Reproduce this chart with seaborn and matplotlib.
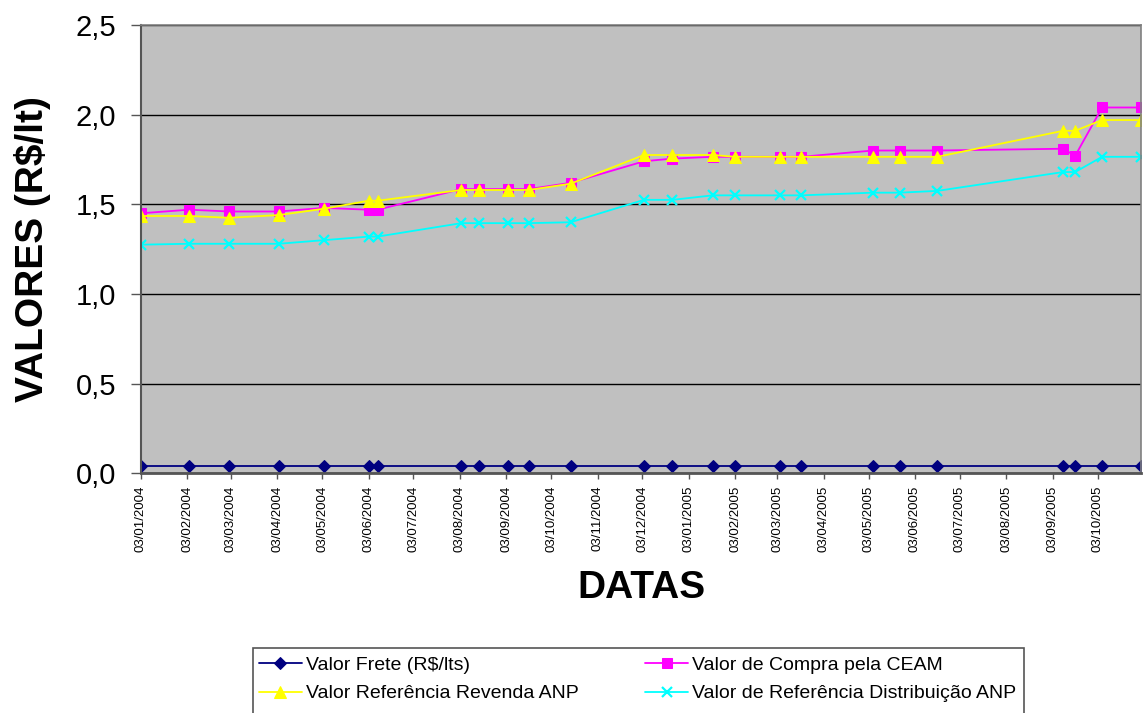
import matplotlib
matplotlib.use("Agg")
import matplotlib.pyplot as plt
import matplotlib.dates as mdates
from matplotlib.ticker import FuncFormatter
from matplotlib.patches import Rectangle
import pandas as pd
import seaborn as sns

# Price survey dates
dates = ["2004-01-03", "2004-02-04", "2004-03-02", "2004-04-04", "2004-05-04",
         "2004-06-03", "2004-06-09", "2004-08-04", "2004-08-16", "2004-09-04",
         "2004-09-18", "2004-10-16", "2004-12-04", "2004-12-23", "2005-01-19",
         "2005-02-03", "2005-03-05", "2005-03-19", "2005-05-06", "2005-05-24",
         "2005-06-18", "2005-09-10", "2005-09-18", "2005-10-06", "2005-11-01"]

# Values in R$ per litre
frete = [0.04, 0.04, 0.04, 0.04, 0.04, 0.04, 0.04, 0.04, 0.04, 0.04,
         0.04, 0.04, 0.04, 0.04, 0.04, 0.04, 0.04, 0.04, 0.04, 0.04,
         0.04, 0.04, 0.04, 0.04, 0.04]
compra_ceam = [1.45, 1.47, 1.46, 1.46, 1.48, 1.47, 1.47, 1.585, 1.585, 1.585,
               1.585, 1.62, 1.74, 1.755, 1.765, 1.765, 1.765, 1.765, 1.80, 1.80,
               1.80, 1.81, 1.77, 2.04, 2.04]
revenda_anp = [1.435, 1.435, 1.425, 1.44, 1.475, 1.52, 1.52, 1.58, 1.58, 1.58,
               1.58, 1.615, 1.775, 1.775, 1.775, 1.765, 1.765, 1.765, 1.765, 1.765,
               1.765, 1.91, 1.91, 1.97, 1.97]
distribuicao_anp = [1.275, 1.28, 1.28, 1.28, 1.30, 1.32, 1.32, 1.395, 1.395, 1.395,
                    1.395, 1.40, 1.525, 1.525, 1.55, 1.55, 1.55, 1.55, 1.565, 1.565,
                    1.575, 1.68, 1.68, 1.765, 1.765]

series_names = ["Valor Frete (R$/lts)", "Valor de Compra pela CEAM",
                "Valor Referência Revenda ANP", "Valor de Referência Distribuição ANP"]
y_ticks = [0.0, 0.5, 1.0, 1.5, 2.0, 2.5]

sns.set_theme(style="white")
plt.rcParams["font.family"] = ["Liberation Sans", "DejaVu Sans"]
plt.rcParams.update({"text.color": "black", "axes.labelcolor": "black",
                     "xtick.color": "black", "ytick.color": "black"})

df = pd.DataFrame({"data": pd.to_datetime(dates)})
series = [frete, compra_ceam, revenda_anp, distribuicao_anp]
styles = [
    dict(color="#000080", marker="D", markersize=6.5),
    dict(color="#FF00FF", marker="s", markersize=6.5),
    dict(color="#FFFF00", marker="^", markersize=8),
    dict(color="#00FFFF", marker="x", markersize=7, markeredgewidth=1.6),
]

fig = plt.figure(figsize=(11.45, 7.13), dpi=100)
ax = fig.add_axes([141 / 1145, 1 - 473.3 / 713, 1000 / 1145, 448.3 / 713])
ax.set_facecolor("#C0C0C0")

for name, vals, st in zip(series_names, series, styles):
    d = df.assign(valor=vals)
    sns.lineplot(data=d, x="data", y="valor", ax=ax, label=name,
                 linewidth=1.3, markeredgecolor=st["color"], **st)

ax.set_ylim(0, 2.5)
ax.set_xlim(pd.Timestamp(dates[0]), pd.Timestamp(dates[-1]))
ax.set_yticks(y_ticks)
ax.yaxis.set_major_formatter(FuncFormatter(lambda v, p: f"{v:.1f}".replace(".", ",")))
ax.xaxis.set_major_locator(mdates.MonthLocator(bymonthday=3))
ax.xaxis.set_major_formatter(mdates.DateFormatter("%d/%m/%Y"))

ax.grid(axis="y", color="black", linewidth=1.0)
ax.grid(axis="x", visible=False)
ax.set_axisbelow(True)

for side in ["top", "right"]:
    ax.spines[side].set_color("#808080")
    ax.spines[side].set_linewidth(1.2)
for side in ["left", "bottom"]:
    ax.spines[side].set_color("#555555")
    ax.spines[side].set_linewidth(1.5)
ax.spines["bottom"].set_linewidth(2)

ax.tick_params(axis="y", which="major", direction="out", length=7, width=1,
               color="#555555", labelsize=21, pad=11, left=True)
ax.tick_params(axis="x", which="major", direction="out", length=4, width=1,
               color="#555555", labelsize=9.5, pad=5, bottom=True,
               labelrotation=90)

ax.set_xlabel("DATAS", fontsize=28, fontweight="bold")
ax.xaxis.set_label_coords(0.5, -0.215)
ax.set_ylabel("VALORES (R$/lt)", fontsize=28, fontweight="bold")
ax.yaxis.set_label_coords(-0.09, 0.5)

handles, labels = ax.get_legend_handles_labels()
ax.get_legend().remove()
order = [0, 2, 1, 3]
leg = fig.legend([handles[i] for i in order], [labels[i] for i in order],
                 ncol=2, loc="upper left",
                 bbox_to_anchor=(255 / 1145, 1 - 652 / 713),
                 frameon=False, fontsize=14, handlelength=2.2,
                 handletextpad=0.2, columnspacing=3.45, labelspacing=0.58,
                 borderaxespad=0, borderpad=0.2)
for h in leg.legend_handles:
    h.set_linewidth(1.3)

fig.patches.append(Rectangle((253 / 1145, -0.05), (1024 - 253) / 1145,
                             (713 - 648) / 713 + 0.05,
                             transform=fig.transFigure, fill=False,
                             edgecolor="#555555", linewidth=1.2))

fig.savefig("out.png", dpi=100, facecolor="white")
